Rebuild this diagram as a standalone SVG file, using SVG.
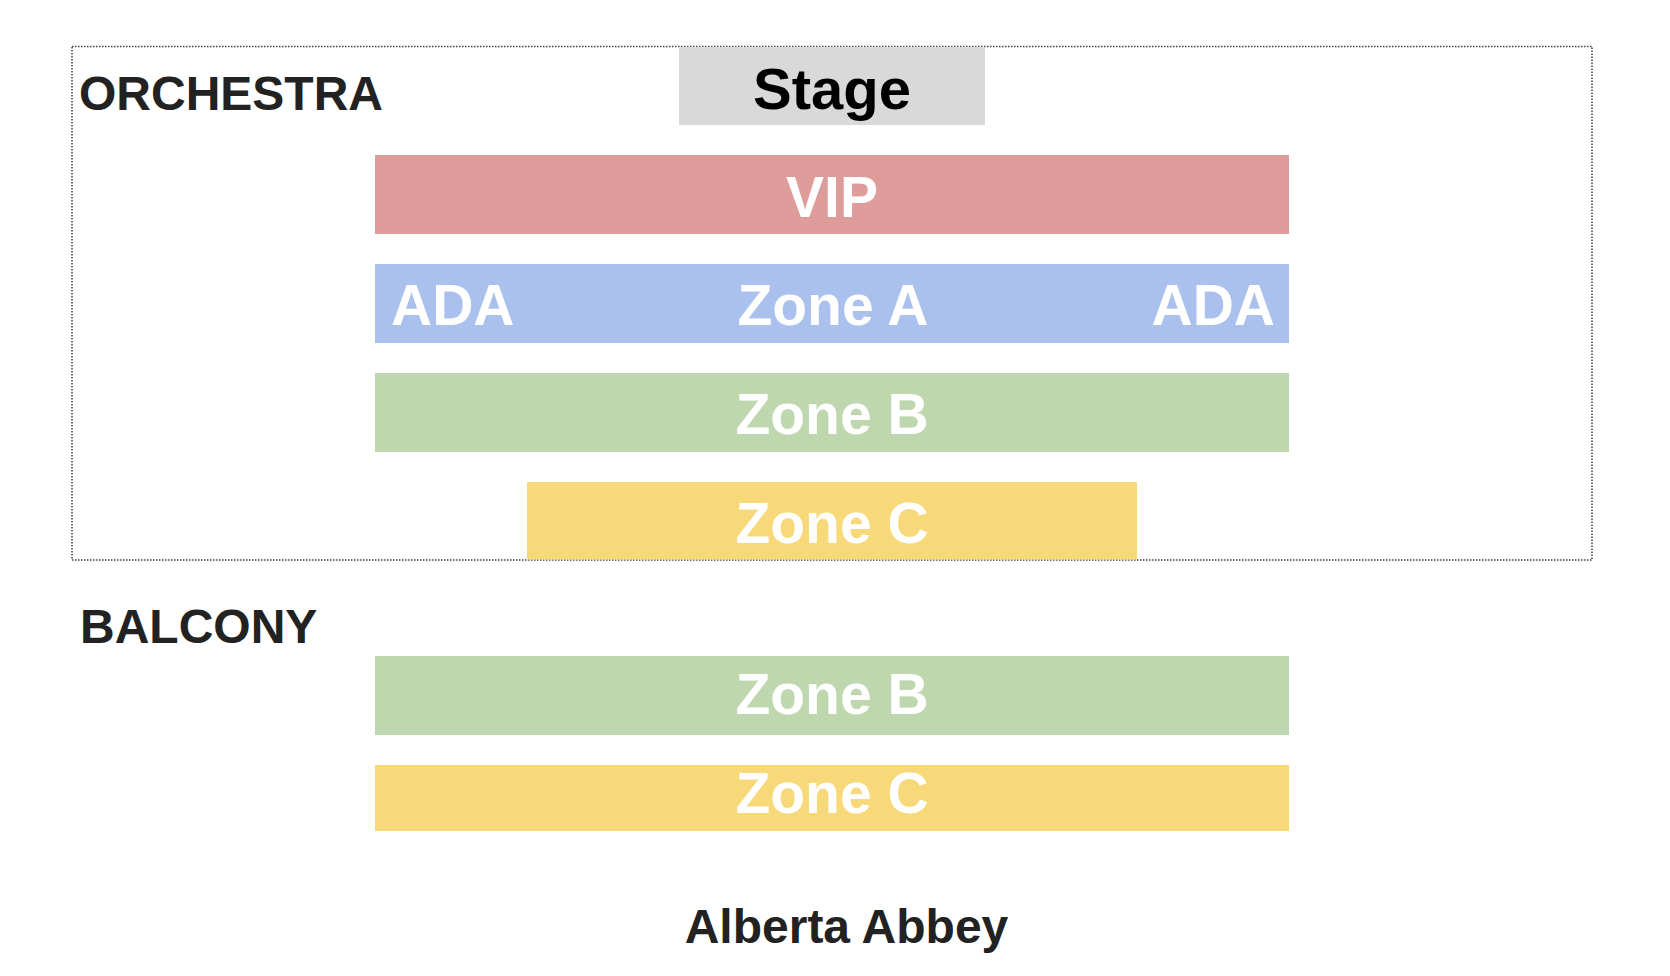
<svg xmlns="http://www.w3.org/2000/svg" width="1670" height="976" viewBox="0 0 1670 976">
<style>
text{font-family:"Liberation Sans",Arial,Helvetica,sans-serif;font-weight:bold}
.z{fill:#fff;font-size:57px;text-anchor:middle}
.zs{text-anchor:start}
.ze{text-anchor:end}
.h{fill:#222;font-size:48px}
.vip{fill:#de9c9b}.za{fill:#aac1ee}.zb{fill:#bfd7ae}.zc{fill:#f7d979}
</style>
<rect width="1670" height="976" fill="#fff"/>
<g id="orchestra-frame">
<rect x="72" y="46.5" width="1520" height="513.5" fill="none" stroke="#444" stroke-width="1.5" stroke-dasharray="1.5 1.5"/>
<text class="h" x="79" y="110">ORCHESTRA</text>
</g>
<g id="stage">
<rect x="679" y="47" width="306" height="78" fill="#d9d9d9"/>
<text x="832" y="109" font-size="58" text-anchor="middle" fill="#000">Stage</text>
</g>
<g id="vip">
<rect class="vip" x="375" y="155" width="914" height="79"/>
<text class="z" x="832" y="217">VIP</text>
</g>
<g id="zone-a">
<rect class="za" x="375" y="264" width="914" height="79"/>
<text class="z zs" x="391" y="325">ADA</text>
<text class="z" x="833" y="325">Zone A</text>
<text class="z ze" x="1275" y="325">ADA</text>
</g>
<g id="zone-b-orchestra">
<rect class="zb" x="375" y="373" width="914" height="79"/>
<text class="z" x="832" y="434">Zone B</text>
</g>
<g id="zone-c-orchestra">
<rect class="zc" x="527" y="482" width="610" height="77.5"/>
<text class="z" x="832" y="543">Zone C</text>
</g>
<g id="balcony-label">
<text class="h" x="80" y="643">BALCONY</text>
</g>
<g id="zone-b-balcony">
<rect class="zb" x="375" y="656" width="914" height="79"/>
<text class="z" x="832" y="714">Zone B</text>
</g>
<g id="zone-c-balcony">
<rect class="zc" x="375" y="765" width="914" height="66"/>
<text class="z" x="832" y="813">Zone C</text>
</g>
<g id="title">
<text class="h" x="846.5" y="943" text-anchor="middle">Alberta Abbey</text>
</g>
<g id="connectors"/>
</svg>
